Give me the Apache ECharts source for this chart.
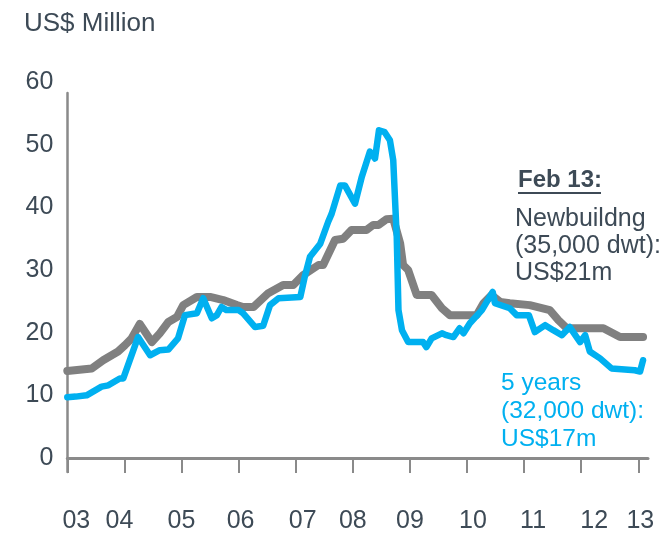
<!DOCTYPE html>
<html>
<head>
<meta charset="utf-8">
<script src="https://cdn.jsdelivr.net/npm/echarts@6/dist/echarts.min.js"></script>
<style>
html,body{margin:0;padding:0;background:#fff;}
#chart{width:669px;height:537px;}
</style>
</head>
<body>
<div id="chart"></div>
<script>
// Newbuilding (35,000 dwt) price, US$ million
const grayDates = ['2003-01-01','2003-06-05','2003-08-17','2003-11-21','2004-01-04','2004-02-17','2004-04-08','2004-06-24','2004-08-14','2004-10-08','2004-12-02','2005-01-12','2005-04-08','2005-07-01','2005-09-24','2005-12-20','2006-01-30','2006-04-05','2006-07-08','2006-10-12','2006-12-16','2007-02-18','2007-05-25','2007-06-24','2007-09-09','2007-10-30','2007-12-24','2008-03-27','2008-05-10','2008-06-13','2008-08-03','2008-09-16','2008-10-30','2008-11-18','2008-12-20','2009-02-14','2009-05-18','2009-07-23','2009-09-13','2010-03-02','2010-04-15','2010-06-06','2010-07-30','2010-10-01','2011-02-07','2011-06-13','2011-08-07','2011-10-01','2012-05-21','2012-09-06','2013-02-01'];
const grayValues = [13.9,14.3,15.6,17.0,18.0,19.1,21.4,18.5,19.9,21.7,22.5,24.4,25.7,25.7,25.2,24.4,24.1,24.1,26.3,27.6,27.6,29.2,30.8,30.8,34.8,35.0,36.4,36.4,37.2,37.2,38.1,38.2,34.2,30.8,30.0,26.0,26.0,23.9,22.8,22.8,24.7,26.0,24.9,24.7,24.4,23.6,22.0,20.7,20.7,19.3,19.3];
// 5-year-old (32,000 dwt) price, US$ million
const blueDates = ['2003-01-01','2003-02-24','2003-05-03','2003-08-07','2003-09-20','2003-12-02','2003-12-24','2004-03-27','2004-06-13','2004-08-14','2004-10-08','2004-12-09','2005-01-23','2005-04-08','2005-05-18','2005-07-12','2005-08-14','2005-09-13','2005-10-15','2006-01-01','2006-01-30','2006-04-15','2006-06-06','2006-07-19','2006-09-13','2007-01-30','2007-02-28','2007-04-01','2007-06-06','2007-07-26','2007-08-18','2007-10-12','2007-11-11','2008-01-15','2008-02-28','2008-04-19','2008-05-21','2008-06-16','2008-07-22','2008-08-25','2008-09-16','2008-10-08','2008-10-19','2008-11-11','2008-12-20','2009-03-24','2009-04-15','2009-05-18','2009-07-23','2009-08-21','2009-10-05','2009-11-14','2009-12-09','2010-01-19','2010-04-05','2010-06-13','2010-06-27','2010-10-01','2010-11-14','2011-02-01','2011-03-09','2011-05-14','2011-07-05','2011-08-29','2011-10-19','2011-12-24','2012-01-26','2012-02-25','2012-04-30','2012-07-12','2012-12-09','2013-01-12','2013-02-01'];
const blueValues = [9.7,9.8,10.0,11.4,11.6,12.7,12.7,19.3,16.4,17.2,17.3,19.1,22.8,23.1,25.5,22.3,22.8,24.1,23.6,23.6,23.1,20.9,21.1,24.4,25.5,25.7,28.9,32.1,34.2,37.7,39.0,43.5,43.5,40.6,44.9,48.9,47.8,52.3,52.0,50.7,47.5,35.3,23.6,20.4,18.5,18.5,17.7,19.1,19.9,19.6,19.3,20.7,19.9,21.5,23.6,26.5,24.7,23.9,22.8,22.8,20.1,21.2,20.4,19.6,20.9,18.5,19.6,17.0,15.9,14.3,14.0,13.8,15.6];
const yearTicks = [2003,2004,2005,2006,2007,2008,2009,2010,2011,2012,2013];
const yTicks = [0,10,20,30,40,50,60];

const FONT = '"Liberation Sans", Arial, sans-serif';
const TXT = '#3d4a56';
const AX = '#8a8a8a';
// horizontal nudges of the year labels (px), as placed in the original
const labelShift = [9,-5,0,2,7,0,0,6,9,13,2];

function toYear(s){
  const p = s.split('-').map(Number);
  return p[0] + ((p[1]-1) + ((p[2]||1)-1)/30)/12;
}
const grayData = grayDates.map((d,i)=>[toYear(d), grayValues[i]]);
const blueData = blueDates.map((d,i)=>[toYear(d), blueValues[i]]);

const rich = {};
labelShift.forEach((s,i)=>{
  rich['s'+i] = {fontSize:25, color:TXT, fontFamily:FONT,
    padding: s>=0 ? [0,0,0,2*s] : [0,-2*s,0,0]};
});

const chart = echarts.init(document.getElementById('chart'), null, {renderer:'canvas'});
chart.setOption({
  animation:false,
  backgroundColor:'#fff',
  title:{text:'US$ Million', left:19, top:6,
    textStyle:{fontSize:26, fontWeight:'normal', color:TXT, fontFamily:FONT}},
  grid:[
    {left:67.3, right:21, top:82, bottom:65},
    {left:67.3, right:21, top:93, bottom:65}
  ],
  xAxis:[
    {type:'value', gridIndex:0, min:2003, max:2013.17,
     axisLine:{show:true, lineStyle:{color:AX, width:3}},
     axisTick:{show:true, customValues:yearTicks, length:15, lineStyle:{color:AX, width:2}},
     axisLabel:{customValues:yearTicks,
       formatter:v=>{const i=Math.round(v)-2003; return '{s'+i+'|'+String(Math.round(v)).slice(2)+'}';},
       rich:rich, fontSize:25, color:TXT, fontFamily:FONT, margin:37},
     splitLine:{show:false}},
    {type:'value', gridIndex:1, min:0, max:1, show:false}
  ],
  yAxis:[
    {type:'value', gridIndex:0, min:-2.23, max:60,
     axisLine:{show:false}, axisTick:{show:false}, splitLine:{show:false},
     axisLabel:{customValues:yTicks, fontSize:25, color:TXT, fontFamily:FONT, margin:14}},
    {type:'value', gridIndex:1, min:0, max:1,
     axisLine:{show:true, lineStyle:{color:AX, width:2.5}},
     axisTick:{show:false}, axisLabel:{show:false}, splitLine:{show:false}}
  ],
  series:[
    {type:'line', name:'Newbuilding', xAxisIndex:0, yAxisIndex:0, data:grayData,
     showSymbol:false, symbol:'none',
     lineStyle:{color:'#808080', width:8, cap:'round', join:'round'}},
    {type:'line', name:'5 years', xAxisIndex:0, yAxisIndex:0, data:blueData,
     showSymbol:false, symbol:'none',
     lineStyle:{color:'#00b0f0', width:6.5, cap:'round', join:'round'}}
  ],
  graphic:[
    {type:'text', left:518, top:168, style:{text:'Feb 13:', font:'bold 24px '+FONT, fill:TXT}},
    {type:'line', shape:{x1:518, y1:193, x2:601, y2:193}, style:{stroke:TXT, lineWidth:2}},
    {type:'text', left:515, top:206, style:{text:'Newbuildng\n(35,000 dwt):\nUS$21m', font:'25px '+FONT, fill:TXT, lineHeight:27}},
    {type:'text', left:501, top:369, style:{text:'5 years\n(32,000 dwt):\nUS$17m', font:'24.5px '+FONT, fill:'#00b0f0', lineHeight:28}}
  ]
});
</script>
</body>
</html>
